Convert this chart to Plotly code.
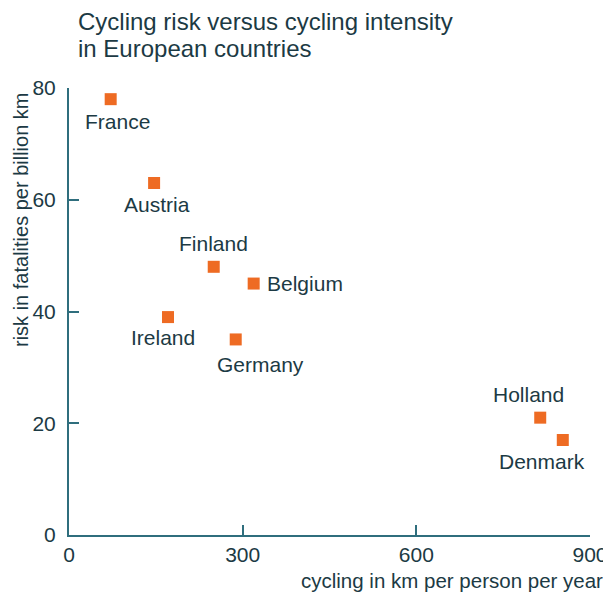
import plotly.graph_objects as go

# data
countries = ["France", "Austria", "Finland", "Belgium", "Ireland", "Germany", "Holland", "Denmark"]
km_per_year = [72, 147, 250, 319, 171, 288, 814, 853]
risk = [78, 63, 48, 45, 39, 35, 21, 17]

# label offsets (px) relative to the marker
label_dx = [7, 3, 0, 11, -5, 25, -12, -21]
label_dy = [-22, -22, 23, 0, -20, -25, 23, -21]
label_anchor = ["center", "center", "center", "left", "center", "center", "center", "center"]

title_lines = ["Cycling risk versus cycling intensity", "in European countries"]

TEXT = "#1c3a44"
AXIS = "#2f6e7d"
ORANGE = "#ee6b23"
FONT = "Liberation Sans, Arial, sans-serif"

fig = go.Figure()
fig.add_trace(go.Scatter(
    x=km_per_year, y=risk, mode="markers",
    marker=dict(symbol="square", size=12, color=ORANGE),
    cliponaxis=False, hoverinfo="skip",
))

for name, x, y, dx, dy, anc in zip(countries, km_per_year, risk, label_dx, label_dy, label_anchor):
    fig.add_annotation(x=x, y=y, text=name, showarrow=False,
                       xshift=dx, yshift=dy, xanchor=anc,
                       font=dict(size=21, color=TEXT, family=FONT))

# two-line title, drawn line by line for tighter spacing
for line, ty in zip(title_lines, [1.148, 1.089]):
    fig.add_annotation(xref="paper", yref="paper", x=0.0154, y=ty, xanchor="left", yanchor="middle",
                       text=line, showarrow=False, borderpad=0,
                       font=dict(size=24, color=TEXT, family=FONT))

# axis titles
fig.add_annotation(xref="paper", yref="paper", x=1.0269, y=-0.1007, xanchor="right", yanchor="middle",
                   text="cycling in km per person per year", showarrow=False, borderpad=0,
                   font=dict(size=20.5, color=TEXT, family=FONT))
fig.add_annotation(xref="paper", yref="paper", x=-0.0921, y=0.7047, xanchor="center", yanchor="middle",
                   text="risk in fatalities per billion km", showarrow=False, textangle=-90,
                   borderpad=0, font=dict(size=20, color=TEXT, family=FONT))

# page body adds an 8px margin, so the figure is drawn 8px smaller
fig.update_layout(
    width=603, height=587,
    margin=dict(l=61, r=21, t=80, b=60),
    paper_bgcolor="white", plot_bgcolor="white",
    showlegend=False,
    font=dict(family=FONT, color=TEXT),
)
fig.update_xaxes(range=[0, 900], tickvals=[0, 300, 600, 900], showgrid=False, zeroline=False,
                 showline=True, linecolor=AXIS, linewidth=2, ticks="inside", ticklen=10,
                 tickcolor=AXIS, tickwidth=2, ticklabelstandoff=0, automargin=False,
                 tickfont=dict(size=21, color=TEXT))
fig.update_yaxes(range=[0, 80], tickvals=[0, 20, 40, 60, 80], showgrid=False, zeroline=False,
                 showline=True, linecolor=AXIS, linewidth=2, ticks="inside", ticklen=10,
                 tickcolor=AXIS, tickwidth=2, ticklabelstandoff=7, automargin=False,
                 tickfont=dict(size=21, color=TEXT))

fig.write_html("out.html")
